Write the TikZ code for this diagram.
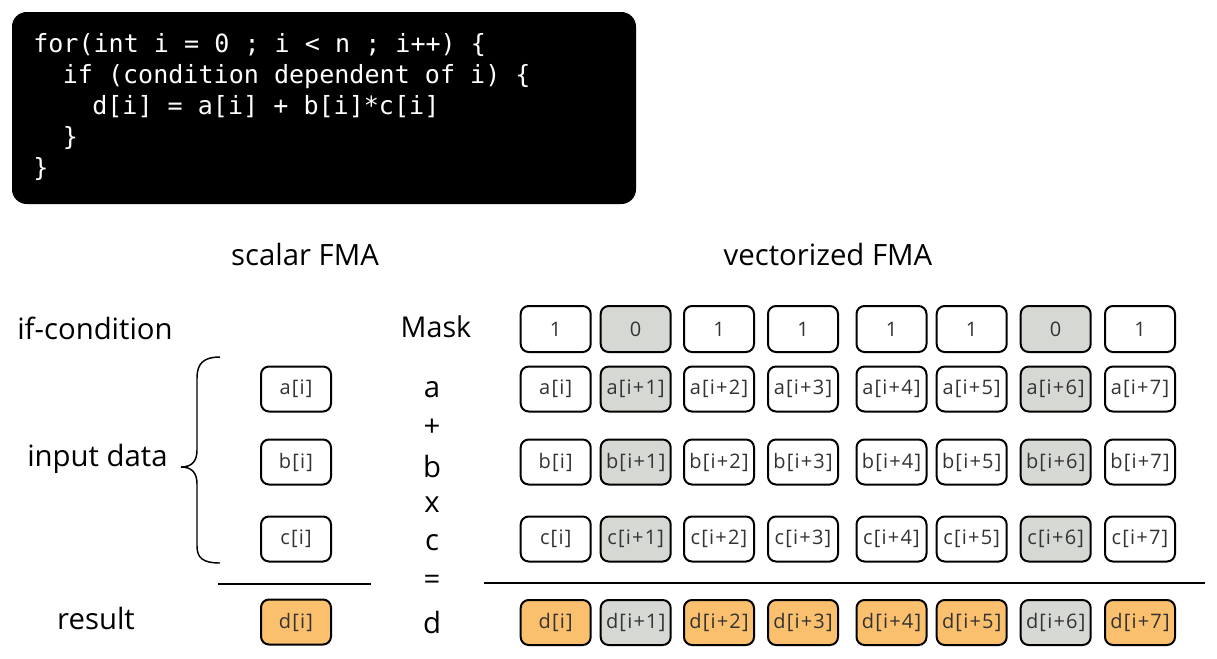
\documentclass[tikz,border=0pt]{standalone}
\usepackage{fontspec}
\setmainfont{Open Sans}
\newfontfamily\codefont{DejaVu Sans Mono}
\newfontfamily\boxfont{Open Sans}[LetterSpace=6]
\definecolor{orangefill}{RGB}{251,192,110}
\definecolor{grayfill}{RGB}{214,216,212}
\definecolor{boxtext}{RGB}{51,51,51}
\tikzset{
  cell/.style={draw, line width=1.5pt, rounded corners=6pt, minimum width=52.5pt,
    minimum height=33.75pt, inner sep=0pt, font=\boxfont\fontsize{15}{18}\selectfont, text=boxtext, fill=white},
  maskcell/.style={cell, minimum height=34.5pt},
  masked/.style={fill=grayfill},
  res/.style={fill=orangefill},
  lbl/.style={font=\fontsize{22}{26}\selectfont, inner sep=0pt},
  codeline/.style={font=\codefont\fontsize{18.8}{22}\selectfont, text=white, anchor=base west, inner sep=0pt},
  rule/.style={line width=1.5pt},
}
\begin{document}
\begin{tikzpicture}[x=0.75pt,y=-0.75pt]
\path[use as bounding box] (0,0) rectangle (1217,658);
% code box
\node[fill=black, rounded corners=11pt, minimum width=468pt, minimum height=144pt, inner sep=0pt] (code) at (324,108) {};
\node[codeline] (l1) at (33,52) {for(int i = 0 ; i < n ; i++) \{};
\node[codeline] (l2) at (62.5,83) {if (condition dependent of i) \{};
\node[codeline] (l3) at (92,114) {d[i] = a[i] + b[i]*c[i]};
\node[codeline] (l4) at (62.5,145) {\}};
\node[codeline] (l5) at (33,176) {\}};
% headings
\node[lbl] (hs) at (305,254) {scalar FMA};
\node[lbl] (hv) at (828,254) {vectorized FMA};
\node[lbl, anchor=west] (ifc) at (17,328) {if-condition};
\node[lbl, font=\fontsize{21.5}{25}\selectfont] (mask) at (436,327) {Mask};
\node[lbl, anchor=west] (inp) at (27,459) {input data};
\node[lbl] (resl) at (96,618) {result};
% operator column
\node[lbl] (opa) at (432,390) {a};
\node[lbl] (opp) at (432,428) {+};
\node[lbl] (opb) at (432,466) {b};
\node[lbl] (opx) at (432,505) {x};
\node[lbl] (opc) at (432,543) {c};
\node[lbl] (ope) at (432,582) {=};
\node[lbl] (opd) at (432,622) {d};
% brace
\draw[line width=1.1pt] (220,357) .. controls (203,357) and (197,364) .. (197,378) -- (197,450)
  .. controls (197,461) and (192,467) .. (181,467)
  .. controls (192,467) and (197,473) .. (197,484) -- (197,546)
  .. controls (197,558) and (203,563) .. (220,563);
% scalar boxes
\node[cell] (sa) at (296,389) {a[i]};
\node[cell] (sb) at (296,462) {b[i]};
\node[cell] (sc) at (296,539) {c[i]};
\node[cell, res] (sd) at (296,622) {d[i]};
% rules
\coordinate (r1a) at (218,583.5);
\coordinate (r1b) at (371,583.5);
\coordinate (r2a) at (484,583);
\coordinate (r2b) at (1205,583);
\draw[rule] (r1a) -- (r1b);
\draw[rule] (r2a) -- (r2b);
% vector boxes
\foreach \k/\xx/\m/\sfx in {1/555.7/1/, 2/635.7/0/+1, 3/719/1/+2, 4/803/1/+3, 5/891.5/1/+4, 6/971.7/1/+5, 7/1055.7/0/+6, 8/1140/1/+7}{
  \ifnum\m=0
    \node[maskcell, masked] (m\k) at (\xx,329) {\m};
    \node[cell, masked] (a\k) at (\xx,389) {a[i\sfx]};
    \node[cell, masked] (b\k) at (\xx,462) {b[i\sfx]};
    \node[cell, masked] (c\k) at (\xx,539) {c[i\sfx]};
    \node[cell, masked] (d\k) at (\xx,622.5) {d[i\sfx]};
  \else
    \node[maskcell] (m\k) at (\xx,329) {\m};
    \node[cell] (a\k) at (\xx,389) {a[i\sfx]};
    \node[cell] (b\k) at (\xx,462) {b[i\sfx]};
    \node[cell] (c\k) at (\xx,539) {c[i\sfx]};
    \node[cell, res] (d\k) at (\xx,622.5) {d[i\sfx]};
  \fi
}
\end{tikzpicture}
\end{document}
